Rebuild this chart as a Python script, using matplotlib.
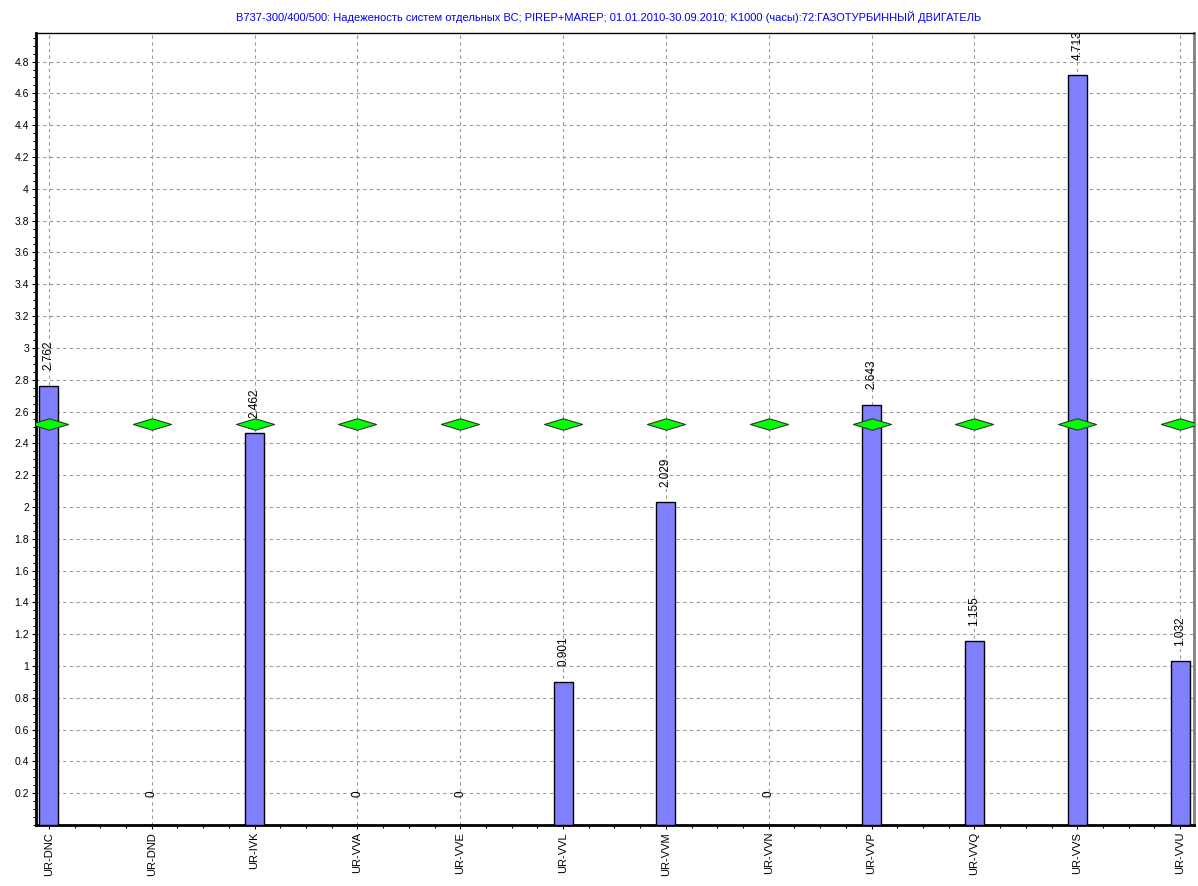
import matplotlib.pyplot as plt
from matplotlib.path import Path
from matplotlib.ticker import MultipleLocator
import numpy as np

plt.rcParams['font.family'] = ['Liberation Sans', 'DejaVu Sans']

aircraft = ['UR-DNC', 'UR-DND', 'UR-IVK', 'UR-VVA', 'UR-VVE', 'UR-VVL',
            'UR-VVM', 'UR-VVN', 'UR-VVP', 'UR-VVQ', 'UR-VVS', 'UR-VVU']
values = [2.762, 0, 2.462, 0, 0, 0.901, 2.029, 0, 2.643, 1.155, 4.713, 1.032]
fleet_level = [2.52] * len(aircraft)
labels = ['2.762', '0', '2.462', '0', '0', '0.901', '2.029', '0', '2.643', '1.155', '4.713', '1.032']

title = ('B737-300/400/500: Надеженость систем отдельных ВС; PIREP+MAREP; '
         '01.01.2010-30.09.2010; K1000 (часы):72:ГАЗОТУРБИННЫЙ ДВИГАТЕЛЬ')

fig = plt.figure(figsize=(11.98, 8.86), dpi=100)
ax = fig.add_axes([0.030, 0.0688, 0.9667, 0.894])

x = np.arange(len(aircraft))
ax.bar(x, values, width=0.185, color='#8080ff', edgecolor='black', linewidth=1, zorder=3)

# wide diamond marker for the average level
diamond = Path([(-1, 0), (0, 0.3), (1, 0), (0, -0.3), (-1, 0)],
               [Path.MOVETO, Path.LINETO, Path.LINETO, Path.LINETO, Path.CLOSEPOLY])
ax.scatter(x, fleet_level, marker=diamond, s=750, color='#00ff00',
           edgecolor='#333333', linewidth=0.8, zorder=4)

for xi, v, lab in zip(x, values, labels):
    off = 20 if v == 0 else 11
    ax.annotate(lab, (xi, v), xytext=(0, off), textcoords='offset points',
                rotation=90, ha='center', va='bottom', fontsize=8.5, zorder=5,
                annotation_clip=False)

ax.set_xlim(-0.126, 11.136)
ax.set_ylim(0, 4.98)
ax.set_xticks(x)
ax.set_xticklabels(aircraft, rotation=90, fontsize=8)
ax.xaxis.set_minor_locator(MultipleLocator(0.25))
yt = np.arange(0.2, 4.81, 0.2).round(1)
ax.set_yticks(yt)
ax.set_yticklabels([f'{v:g}' for v in yt], fontsize=7.5)
ax.yaxis.set_minor_locator(MultipleLocator(0.05))
ax.tick_params(which='both', direction='out', length=3, width=0.8, pad=2)
ax.tick_params(which='minor', length=2)

ax.grid(True, which='major', linestyle=(0, (3, 3)), color='#999999', linewidth=0.8, zorder=0)
ax.set_axisbelow(True)

ax.spines['left'].set_linewidth(2)
ax.spines['bottom'].set_linewidth(2)
ax.spines['top'].set_linewidth(1)
ax.spines['right'].set_linewidth(2)
ax.spines['right'].set_color('#808080')

fig.text(0.508, 0.981, title, ha='center', va='center', fontsize=8, color='#0000ff')

fig.savefig('out.png', dpi=100)
